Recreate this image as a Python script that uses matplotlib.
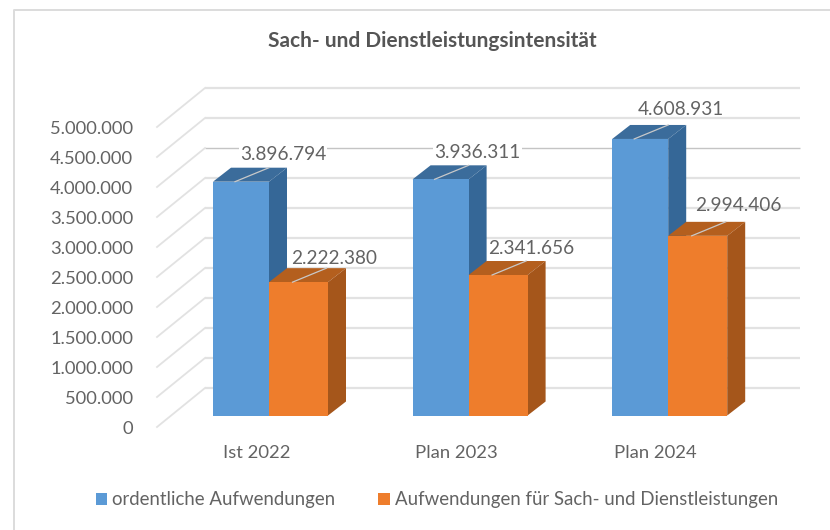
import matplotlib
matplotlib.use("Agg")
import matplotlib.pyplot as plt
from matplotlib.patches import Rectangle, Polygon
from matplotlib.lines import Line2D
from matplotlib.transforms import Affine2D
from matplotlib.ticker import FuncFormatter

categories = ["Ist 2022", "Plan 2023", "Plan 2024"]
ordentlich = [3896794, 3936311, 4608931]
sach = [2222380, 2341656, 2994406]
series_names = ["ordentliche Aufwendungen", "Aufwendungen für Sach- und Dienstleistungen"]
title_text = "Sach- und Dienstleistungsintensität"
ticks = [0, 500000, 1000000, 1500000, 2000000, 2500000, 3000000, 3500000, 4000000, 4500000, 5000000]

W, H = 830, 530
plt.rcParams["font.family"] = ["Lato", "DejaVu Sans"]
fig = plt.figure(figsize=(W / 100, H / 100), dpi=100, facecolor="white")
L, R, T, B = 157, 805, 127, 427
ax = fig.add_axes([L / W, 1 - B / H, (R - L) / W, (B - T) / H], facecolor="none")
pxu = 199.6
x0 = (270 - L) / pxu
ax.set_xlim(-x0, (R - L) / pxu - x0)
ax.set_ylim(0, 5000000)
for s in ax.spines.values():
    s.set_visible(False)

GRID = "#e2e2e2"
TXT = "#636363"
def shifted(dx, dy):
    return ax.transData + Affine2D().translate(dx, dy)

wall = shifted(48, 39)
for v in ticks:
    c = "#c4c4c4" if v == 4000000 else GRID
    lw = 1.0 if v == 4000000 else 1.6
    ax.plot([-x0, (800 - 205) / pxu - x0], [v, v], color=c, lw=lw, transform=wall, zorder=1,
            solid_capstyle="butt", clip_on=False)
    p0 = ax.transData.transform((-x0, v))
    p1 = p0 + [48, 39]
    ax.plot([p0[0], p1[0]], [p0[1], p1[1]], color=GRID, lw=1.3, transform=None, zorder=1, clip_on=False)

BW1 = 56 / pxu
BW2 = 59 / pxu
DX, DY = 18, 14
bar_tf = shifted(56, 11.5)
colors = [("#5b9ad6", "#3b6c9b", "#356797"), ("#ee7d2c", "#b45f1e", "#a5561b")]

def draw_bar(xc, val, left, width, cols, z):
    x_l = xc + left
    x_r = x_l + width
    front, top, side = cols
    ax.bar(x_l, val, width=width, align="edge", color=front, transform=bar_tf, zorder=z + 0.2, lw=0, clip_on=False)
    a = bar_tf.transform([(x_l, val), (x_r, val), (x_r, 0)])
    ax.add_patch(Polygon([a[0], a[1], a[1] + [DX, DY], a[0] + [DX, DY]], closed=True, fc=top, ec="none",
                         transform=None, zorder=z, clip_on=False))
    ax.add_patch(Polygon([a[1], a[1] + [DX, DY], a[2] + [DX, DY], a[2]], closed=True, fc=side, ec="none",
                         transform=None, zorder=z, clip_on=False))
    return a

label_off = [[(42, 27), (36, 23.5)], [(37, 27), (33.5, 27)], [(41, 29), (40.5, 30.5)]]
for i, cat in enumerate(categories):
    a1 = draw_bar(i, ordentlich[i], -(57 + 56) / pxu, BW1, colors[0], 3)
    a2 = draw_bar(i, sach[i], -57 / pxu, BW2, colors[1], 4)
    for j, (a, val, off) in enumerate(zip((a1, a2), (ordentlich[i], sach[i]), label_off[i])):
        cx = (a[0][0] + a[1][0]) / 2
        top_y = a[0][1]
        lab = (cx + off[0], top_y + off[1])
        ax.plot([cx - 6, cx + 28], [top_y, top_y + 14], color="#c9c9c9", lw=0.9, transform=None, zorder=6, clip_on=False)
        ax.annotate(f"{val:,}".replace(",", "."), xy=lab, xycoords="figure pixels", ha="center", va="center",
                    fontsize=13.7, color=TXT, zorder=7, annotation_clip=False,
                    bbox=dict(fc="white", ec="none", pad=1.0) if j == 0 and i < 2 else None)

ax.set_xticks(range(3))
ax.set_xticklabels(categories)
ax.set_yticks(ticks)
ax.yaxis.set_major_formatter(FuncFormatter(lambda v, _: f"{int(v):,}".replace(",", ".")))
ax.tick_params(axis="y", length=0, pad=17, labelsize=13.2, labelcolor=TXT)
ax.tick_params(axis="x", length=0, pad=13, labelsize=13.3, labelcolor=TXT)
for lab in ax.get_xticklabels():
    lab.set_transform(lab.get_transform() + Affine2D().translate(-13.5, 0))

fig.text(432 / W, 1 - 41 / H, title_text, ha="center", va="center", fontsize=15, fontweight="bold", color="#555555")

handles = [Rectangle((0, 0), 1, 1, fc=colors[0][0]), Rectangle((0, 0), 1, 1, fc=colors[1][0])]
fig.legend(handles, series_names, loc="center", bbox_to_anchor=(437 / W, 1 - 500 / H), ncol=2, frameon=False,
           fontsize=13.4, labelcolor=TXT, handlelength=0.6, handleheight=0.6, handletextpad=0.3, columnspacing=2.3)

fig.add_artist(Line2D([14 / W, 14 / W, 1], [0, 1 - 10 / H, 1 - 10 / H], transform=fig.transFigure, color="#dcdcdc", lw=1.4))
fig.savefig("out.png", dpi=100)
